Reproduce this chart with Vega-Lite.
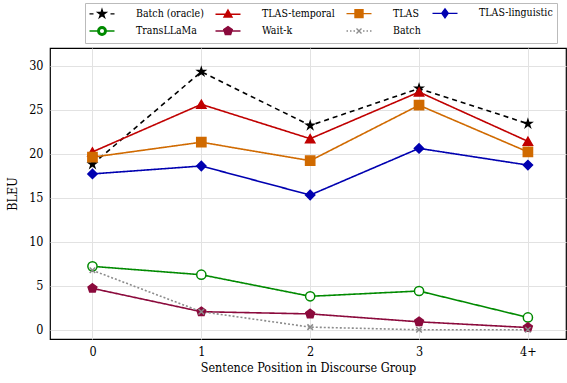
{
  "$schema": "https://vega.github.io/schema/vega-lite/v6.json",
  "width": 516,
  "height": 291,
  "autosize": {"type": "none"},
  "padding": {"left": 50, "top": 48, "right": 1, "bottom": 44},
  "config": {
    "font": "DejaVu Serif Condensed",
    "view": {"stroke": "black", "strokeWidth": 1.2},
    "axis": {
      "gridColor": "#e2e2e2",
      "gridWidth": 1,
      "domain": false,
      "ticks": false,
      "labelFontSize": 12.5,
      "titleFontSize": 12.5,
      "labelColor": "black",
      "titleColor": "black",
      "titleFontWeight": "normal",
      "labelFont": "DejaVu Serif Condensed",
      "titleFont": "DejaVu Serif Condensed"
    },
    "legend": {
      "labelFont": "DejaVu Serif Condensed",
      "labelFontSize": 10.5,
      "labelColor": "black"
    }
  },
  "data": {
    "values": [
      {"method": "Batch (oracle)", "pos": 0, "bleu": 18.8},
      {"method": "Batch (oracle)", "pos": 1, "bleu": 29.3},
      {"method": "Batch (oracle)", "pos": 2, "bleu": 23.2},
      {"method": "Batch (oracle)", "pos": 3, "bleu": 27.4},
      {"method": "Batch (oracle)", "pos": 4, "bleu": 23.4},
      {"method": "TLAS-temporal", "pos": 0, "bleu": 20.2},
      {"method": "TLAS-temporal", "pos": 1, "bleu": 25.6},
      {"method": "TLAS-temporal", "pos": 2, "bleu": 21.7},
      {"method": "TLAS-temporal", "pos": 3, "bleu": 27.0},
      {"method": "TLAS-temporal", "pos": 4, "bleu": 21.4},
      {"method": "TLAS", "pos": 0, "bleu": 19.6},
      {"method": "TLAS", "pos": 1, "bleu": 21.3},
      {"method": "TLAS", "pos": 2, "bleu": 19.2},
      {"method": "TLAS", "pos": 3, "bleu": 25.5},
      {"method": "TLAS", "pos": 4, "bleu": 20.2},
      {"method": "TLAS-linguistic", "pos": 0, "bleu": 17.7},
      {"method": "TLAS-linguistic", "pos": 1, "bleu": 18.6},
      {"method": "TLAS-linguistic", "pos": 2, "bleu": 15.3},
      {"method": "TLAS-linguistic", "pos": 3, "bleu": 20.6},
      {"method": "TLAS-linguistic", "pos": 4, "bleu": 18.7},
      {"method": "TransLLaMa", "pos": 0, "bleu": 7.2},
      {"method": "TransLLaMa", "pos": 1, "bleu": 6.25},
      {"method": "TransLLaMa", "pos": 2, "bleu": 3.8},
      {"method": "TransLLaMa", "pos": 3, "bleu": 4.4},
      {"method": "TransLLaMa", "pos": 4, "bleu": 1.4},
      {"method": "Wait-k", "pos": 0, "bleu": 4.7},
      {"method": "Wait-k", "pos": 1, "bleu": 2.05},
      {"method": "Wait-k", "pos": 2, "bleu": 1.8},
      {"method": "Wait-k", "pos": 3, "bleu": 0.9},
      {"method": "Wait-k", "pos": 4, "bleu": 0.25},
      {"method": "Batch", "pos": 0, "bleu": 6.75},
      {"method": "Batch", "pos": 1, "bleu": 2.05},
      {"method": "Batch", "pos": 2, "bleu": 0.3},
      {"method": "Batch", "pos": 3, "bleu": 0.0},
      {"method": "Batch", "pos": 4, "bleu": 0.0}
    ]
  },
  "encoding": {
    "x": {
      "field": "pos",
      "type": "quantitative",
      "scale": {"domain": [-0.39, 4.35], "nice": false, "zero": false},
      "axis": {
        "values": [0, 1, 2, 3, 4],
        "labelExpr": "datum.value == 4 ? '4+' : datum.label",
        "title": "Sentence Position in Discourse Group",
        "labelPadding": 6,
        "titlePadding": 4
      }
    },
    "y": {
      "field": "bleu",
      "type": "quantitative",
      "scale": {"domain": [-1.05, 32], "nice": false, "zero": false},
      "axis": {
        "values": [0, 5, 10, 15, 20, 25, 30],
        "title": "BLEU",
        "labelPadding": 7,
        "titlePadding": 9
      }
    }
  },
  "resolve": {
    "scale": {"shape": "independent"},
    "legend": {"stroke": "independent", "strokeDash": "independent", "fill": "independent", "shape": "independent", "color": "independent"}
  },
  "layer": [
    {
      "mark": {"type": "line", "strokeWidth": 1.6},
      "encoding": {
        "stroke": {
          "field": "method",
          "type": "nominal",
          "scale": {
            "domain": ["Batch (oracle)", "TLAS-temporal", "TLAS", "TLAS-linguistic", "TransLLaMa", "Wait-k", "Batch"],
            "range": ["#000000", "#C00000", "#D06A00", "#0000B0", "#008A00", "#8B0A3C", "#8C8C8C"]
          },
          "legend": null
        },
        "strokeDash": {
          "field": "method",
          "type": "nominal",
          "scale": {
            "domain": ["Batch (oracle)", "TLAS-temporal", "TLAS", "TLAS-linguistic", "TransLLaMa", "Wait-k", "Batch"],
            "range": [[5, 4], [1, 0], [1, 0], [1, 0], [1, 0], [1, 0], [2, 2]]
          },
          "legend": null
        }
      }
    },
    {
      "mark": {"type": "point", "filled": true, "opacity": 1, "strokeWidth": 1.5, "size": 85},
      "encoding": {
        "stroke": {"field": "method", "type": "nominal", "legend": null},
        "fill": {
          "field": "method",
          "type": "nominal",
          "scale": {
            "domain": ["Batch (oracle)", "TLAS-temporal", "TLAS", "TLAS-linguistic", "TransLLaMa", "Wait-k", "Batch"],
            "range": ["#000000", "#C00000", "#D06A00", "#0000B0", "#ffffff", "#8B0A3C", "#8C8C8C"]
          },
          "legend": null
        },
        "shape": {
          "field": "method",
          "type": "nominal",
          "scale": {
            "domain": ["Batch (oracle)", "TLAS-temporal", "TLAS", "TLAS-linguistic", "TransLLaMa", "Wait-k", "Batch"],
            "range": [
              "M0,-0.85L0.18,-0.26L0.8,-0.26L0.3,0.1L0.5,0.7L0,0.33L-0.5,0.7L-0.3,0.1L-0.8,-0.26L-0.18,-0.26Z",
              "triangle-up",
              "square",
              "diamond",
              "circle",
              "M0,-1L0.951,-0.309L0.588,0.809L-0.588,0.809L-0.951,-0.309Z",
              "M-0.6,-0.6L0.6,0.6M-0.6,0.6L0.6,-0.6"
            ]
          },
          "legend": null
        }
      }
    },
    {
      "mark": {"type": "point", "filled": true, "opacity": 0, "strokeWidth": 1.4, "size": 100},
      "encoding": {
        "color": {
          "field": "method",
          "type": "nominal",
          "scale": {
            "domain": ["Batch (oracle)", "TLAS-temporal", "TLAS", "TLAS-linguistic", "TransLLaMa", "Wait-k", "Batch"],
            "range": ["#000000", "#C00000", "#D06A00", "#0000B0", "#008A00", "#8B0A3C", "#8C8C8C"]
          },
          "legend": {
            "orient": "none",
            "legendX": 35,
            "legendY": -45,
            "columns": 4,
            "direction": "horizontal",
            "title": null,
            "strokeColor": "#bbbbbb",
            "fillColor": "white",
            "padding": 4,
            "symbolSize": 100,
            "symbolStrokeWidth": 1.4,
            "symbolOffset": 7,
            "labelOffset": 28,
            "columnPadding": 8,
            "rowPadding": 2,
            "encode": {"symbols": {"update": {"opacity": {"value": 1}}}}
          }
        },
        "stroke": {
          "field": "method",
          "type": "nominal",
          "legend": {
            "orient": "none",
            "legendX": 35,
            "legendY": -45,
            "columns": 4,
            "direction": "horizontal",
            "title": null,
            "strokeColor": "#bbbbbb",
            "fillColor": "white",
            "padding": 4,
            "symbolSize": 100,
            "symbolStrokeWidth": 1.4,
            "symbolOffset": 7,
            "labelOffset": 28,
            "columnPadding": 8,
            "rowPadding": 2,
            "encode": {"symbols": {"update": {"opacity": {"value": 1}}}}
          }
        },
        "shape": {
          "field": "method",
          "type": "nominal",
          "scale": {
            "domain": ["Batch (oracle)", "TLAS-temporal", "TLAS", "TLAS-linguistic", "TransLLaMa", "Wait-k", "Batch"],
            "range": [
              "M-2.5,0L-1.7,0M1.7,0L2.5,0M0,-0.85L0.18,-0.26L0.8,-0.26L0.3,0.1L0.5,0.7L0,0.33L-0.5,0.7L-0.3,0.1L-0.8,-0.26L-0.18,-0.26Z",
              "M-2.5,0L2.5,0M0,-0.85L0.8,0.55L-0.8,0.55Z",
              "M-2.5,0L2.5,0M-0.8,-0.8L0.8,-0.8L0.8,0.8L-0.8,0.8Z",
              "M-2.5,0L2.5,0M0,-0.9L0.65,0L0,0.9L-0.65,0Z",
              "M-2.5,0L-0.85,0M0.85,0L2.5,0M0.85,0A0.85,0.85 0 1,0 -0.85,0A0.85,0.85 0 1,0 0.85,0ZM0.55,0A0.55,0.55 0 1,1 -0.55,0A0.55,0.55 0 1,1 0.55,0Z",
              "M-2.5,0L2.5,0M0,-0.9L0.86,-0.28L0.53,0.73L-0.53,0.73L-0.86,-0.28Z",
              "M-2.5,0L-2.2,0M-1.8,0L-1.5,0M-1.1,0L-0.8,0M0.8,0L1.1,0M1.5,0L1.8,0M2.2,0L2.5,0M-0.5,-0.5L0.5,0.5M-0.5,0.5L0.5,-0.5"
            ]
          },
          "legend": {
            "orient": "none",
            "legendX": 35,
            "legendY": -45,
            "columns": 4,
            "direction": "horizontal",
            "title": null,
            "strokeColor": "#bbbbbb",
            "fillColor": "white",
            "padding": 4,
            "symbolSize": 100,
            "symbolStrokeWidth": 1.4,
            "symbolOffset": 7,
            "labelOffset": 28,
            "columnPadding": 8,
            "rowPadding": 2,
            "encode": {"symbols": {"update": {"opacity": {"value": 1}}}}
          }
        }
      }
    }
  ]
}
